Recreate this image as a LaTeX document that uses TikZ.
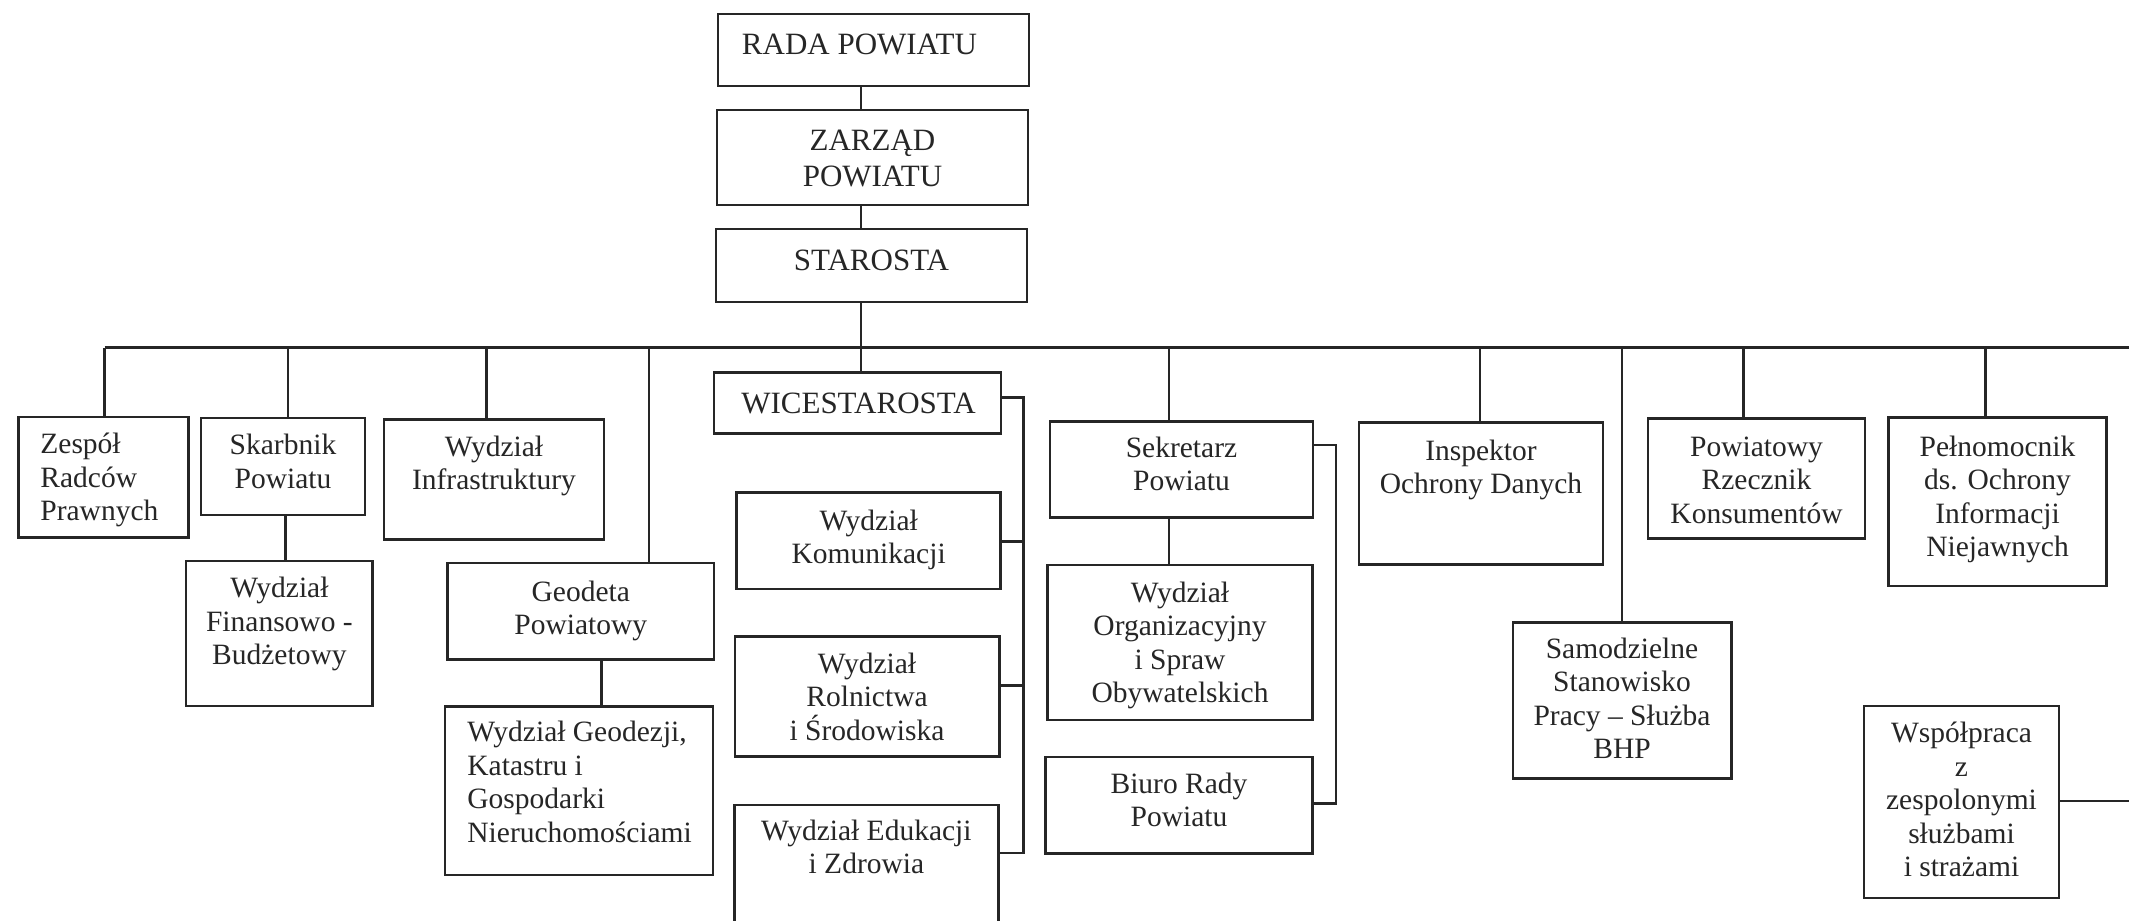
\documentclass[tikz,border=0pt]{standalone}
\usepackage{fontspec}
\setmainfont{Liberation Serif}
\definecolor{ink}{RGB}{38,38,38}
\newcommand\regfont{\fontsize{29.5}{33.5}\selectfont}
\newcommand\capfont{\fontsize{31}{36.7}\selectfont}
% name, x1, y1, x2, y2
\newcommand\mkbox[5]{\node[orgbox, minimum width={#4-#2}, minimum height={#5-#3}] (#1) at ({(#2+#4)/2},{(#3+#5)/2}) {};}
% name, x, first baseline, text, extra style
\newcommand\mktxt[5]{\node[txt,#5] (#1) at (#2,{#3-23.45}) {\strut #4};}
\newcommand\mkcap[4]{\node[txt,font=\capfont] (#1) at (#2,{#3-25.69}) {\strut #4};}
\begin{document}
\begin{tikzpicture}[x=1pt,y=-1pt,
  orgbox/.style={draw=ink, line width=2.7pt, inner sep=0pt, outer sep=0pt},
  txt/.style={inner sep=0pt, outer sep=0pt, text=ink, font=\regfont, align=center, anchor=north},
  lefttxt/.style={align=left, anchor=north west},
  conn/.style={draw=ink, line width=2.5pt}]
\useasboundingbox (0,0) rectangle (2129,921);
\fill[white] (0,0) rectangle (2129,921);
\clip (0,0) rectangle (2129,921);

% ---- boxes ----
\mkbox{rada}{718}{14}{1029}{86}
\mkbox{zarzad}{717}{110}{1028}{205}
\mkbox{starosta}{716}{229}{1027}{302}
\mkbox{wice}{714}{372.7}{1001}{433.3}
\mkbox{kom}{736.7}{492.3}{1000.7}{589}
\mkbox{rol}{735}{636.7}{999.5}{756.3}
\mkbox{edu}{734.4}{805}{998.4}{960}
\mkbox{sek}{1050}{421.7}{1313}{517.3}
\mkbox{org}{1047.6}{565}{1312.5}{720}
\mkbox{biuro}{1045.7}{757}{1312.5}{853.3}
\mkbox{zesp}{18.4}{417}{188.2}{537.6}
\mkbox{skarb}{201}{418}{365}{515}
\mkbox{infra}{384}{419.6}{604}{539.6}
\mkbox{geodeta}{447.7}{563}{714}{659.6}
\mkbox{fin}{186}{561}{372.8}{706}
\mkbox{geodezji}{445}{706.7}{713}{875}
\mkbox{insp}{1359}{422.8}{1603}{564.8}
\mkbox{bhp}{1513}{622.8}{1731.5}{778.4}
\mkbox{rzecz}{1648}{418.8}{1865}{538.5}
\mkbox{pelnom}{1888.3}{417.7}{2106.7}{586}
\mkbox{wspol}{1864}{706}{2059}{898}

% ---- texts ----
\mkcap{radaT}{859.5}{54}{RADA POWIATU}
\mkcap{zarzadT}{872.5}{150}{ZARZĄD\\POWIATU}
\mkcap{starostaT}{871.5}{270}{STAROSTA}
\mkcap{wiceT}{858.5}{413}{WICESTAROSTA}
\mktxt{komT}{868.7}{530}{Wydział\\Komunikacji}{}
\mktxt{rolT}{867}{673.3}{Wydział\\Rolnictwa\\i Środowiska}{}
\mktxt{eduT}{866.4}{840}{Wydział Edukacji\\i Zdrowia}{}
\mktxt{sekT}{1181.5}{457.3}{Sekretarz\\Powiatu}{}
\mktxt{orgT}{1180}{602.3}{Wydział\\Organizacyjny\\i Spraw\\Obywatelskich}{}
\mktxt{biuroT}{1179}{793.3}{Biuro Rady\\Powiatu}{}
\mktxt{zespT}{40.4}{453.7}{Zespół\\Radców\\Prawnych}{lefttxt}
\mktxt{skarbT}{283}{454.5}{Skarbnik\\Powiatu}{}
\mktxt{infraT}{494}{456.4}{Wydział\\Infrastruktury}{}
\mktxt{geodetaT}{580.8}{601}{Geodeta\\Powiatowy}{}
\mktxt{finT}{279.4}{597.8}{Wydział\\Finansowo -\\Budżetowy}{}
\mktxt{geodezjiT}{467.4}{741.6}{Wydział Geodezji,\\Katastru i\\Gospodarki\\Nieruchomościami}{lefttxt}
\mktxt{inspT}{1481}{460.4}{Inspektor\\Ochrony Danych}{}
\mktxt{bhpT}{1622}{658.4}{Samodzielne\\Stanowisko\\Pracy – Służba\\BHP}{}
\mktxt{rzeczT}{1756.5}{456.4}{Powiatowy\\Rzecznik\\Konsumentów}{}
\mktxt{pelnomT}{1997.5}{456}{Pełnomocnik\\ds. Ochrony\\Informacji\\Niejawnych}{}
\mktxt{wspolT}{1961.5}{742.8}{Współpraca\\z\\zespolonymi\\służbami\\i strażami}{}

% ---- helper coordinates ----
\coordinate (spine) at (861,0);
\coordinate (busL) at (104.7,347.5);
\coordinate (busR) at (2129,347.5);
\coordinate (dSkarb) at (288,347.5);
\coordinate (dInfra) at (486.7,347.5);
\coordinate (dGeod) at (648.8,347.5);
\coordinate (dSek) at (1169,347.5);
\coordinate (dInsp) at (1480,347.5);
\coordinate (dBhp) at (1622.2,347.5);
\coordinate (dRzecz) at (1743.4,347.5);
\coordinate (dPel) at (1985.5,347.5);
\coordinate (cSF) at (285.6,0);
\coordinate (cGG) at (601.5,0);
\coordinate (wb1) at (1023.5,397.3);
\coordinate (wb2) at (1023.5,541.7);
\coordinate (wb3) at (1023.5,685.7);
\coordinate (wb4) at (1023.5,853);
\coordinate (sb1) at (1336,445);
\coordinate (sb2) at (1336,803.3);
\coordinate (wR) at (2129,801);

% ---- connectors ----
\draw[conn] (spine |- rada.south) -- (spine |- zarzad.north);
\draw[conn] (spine |- zarzad.south) -- (spine |- starosta.north);
\draw[conn] (spine |- starosta.south) -- (spine |- wice.north);
\draw[conn] (busL) -- (busR);
\draw[conn] (busL) -- (busL |- zesp.north);
\draw[conn] (dSkarb) -- (dSkarb |- skarb.north);
\draw[conn] (dInfra) -- (dInfra |- infra.north);
\draw[conn] (dGeod) -- (dGeod |- geodeta.north);
\draw[conn] (dSek) -- (dSek |- sek.north);
\draw[conn] (dInsp) -- (dInsp |- insp.north);
\draw[conn] (dBhp) -- (dBhp |- bhp.north);
\draw[conn] (dRzecz) -- (dRzecz |- rzecz.north);
\draw[conn] (dPel) -- (dPel |- pelnom.north);
\draw[conn] (cSF |- skarb.south) -- (cSF |- fin.north);
\draw[conn] (cGG |- geodeta.south) -- (cGG |- geodezji.north);
\draw[conn] (dSek |- sek.south) -- (dSek |- org.north);
\draw[conn] (wice.east |- wb1) -- (wb1) -- (wb4) -- (edu.east |- wb4);
\draw[conn] (kom.east |- wb2) -- (wb2);
\draw[conn] (rol.east |- wb3) -- (wb3);
\draw[conn] (sek.east |- sb1) -- (sb1) -- (sb2) -- (biuro.east |- sb2);
\draw[conn] (wspol.east |- wR) -- (wR);
\end{tikzpicture}
\end{document}
